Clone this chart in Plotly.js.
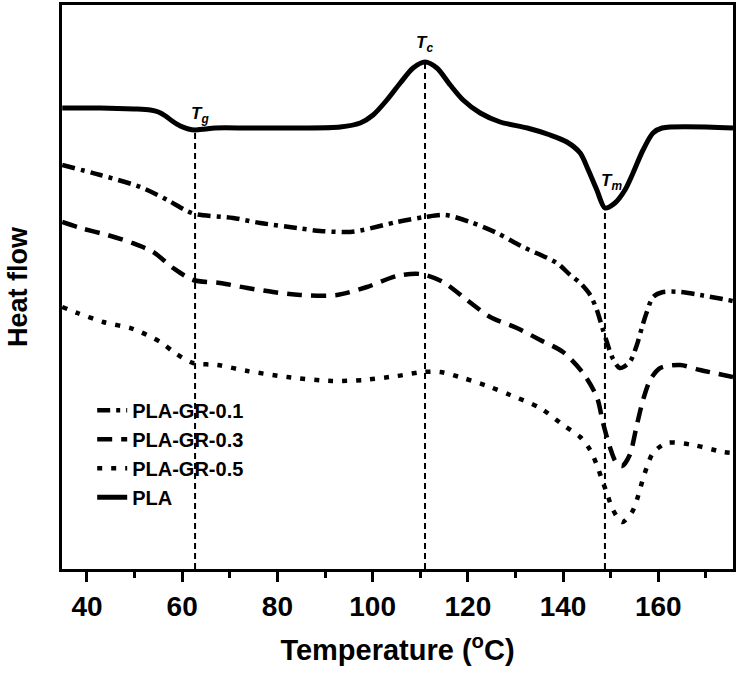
<!DOCTYPE html>
<html>
<head>
<meta charset="utf-8">
<script src="https://cdn.plot.ly/plotly-3.0.1.min.js"></script>
<style>html,body{margin:0;padding:0;background:#fff;}#chart{width:740px;height:678px;}</style>
</head>
<body>
<div id="chart"></div>
<script>
// Temperature (°C) and heat flow (a.u.)
const plaT = [34.8, 42.8, 49.9, 53.3, 55.0, 56.5, 57.9, 59.6, 61.3, 62.7, 64.8, 66.9, 74.3, 84.8, 93.2, 97.4, 100.1, 103.0, 105.8, 108.5, 111.0, 113.5, 116.3, 119.0, 122.6, 126.8, 132.5, 137.3, 140.8, 143.6, 145.3, 147.1, 148.8, 150.9, 153.0, 154.7, 156.8, 158.9, 160.8, 175.7];
const plaHF = [4.61, 4.61, 4.60, 4.59, 4.57, 4.53, 4.48, 4.43, 4.40, 4.39, 4.40, 4.41, 4.41, 4.41, 4.42, 4.46, 4.54, 4.69, 4.86, 5.01, 5.07, 5.01, 4.84, 4.69, 4.56, 4.47, 4.41, 4.34, 4.27, 4.16, 3.99, 3.79, 3.61, 3.66, 3.79, 3.96, 4.19, 4.36, 4.41, 4.41];

const gr01T = [34.8, 42.8, 51.2, 56.9, 60.6, 62.7, 70.7, 76.4, 84.2, 89.0, 95.3, 98.0, 105.1, 111.0, 115.2, 120.5, 126.1, 131.6, 138.7, 141.5, 143.6, 145.7, 147.1, 148.2, 149.2, 150.3, 151.9, 154.0, 155.5, 156.6, 157.6, 158.9, 161.0, 164.6, 168.8, 175.7];
const gr01HF = [4.04, 3.94, 3.82, 3.69, 3.59, 3.55, 3.51, 3.46, 3.41, 3.38, 3.37, 3.39, 3.47, 3.52, 3.54, 3.47, 3.36, 3.22, 3.06, 2.94, 2.86, 2.74, 2.59, 2.42, 2.27, 2.12, 2.01, 2.07, 2.24, 2.42, 2.57, 2.72, 2.77, 2.77, 2.74, 2.68];

const gr03T = [34.8, 38.6, 44.3, 49.5, 53.9, 58.1, 62.3, 67.9, 73.7, 79.1, 84.8, 92.5, 98.8, 105.1, 110.0, 114.8, 119.8, 124.7, 130.3, 135.2, 140.0, 144.2, 147.1, 148.4, 149.9, 151.1, 152.4, 154.0, 155.5, 156.8, 158.3, 160.4, 164.6, 168.8, 175.7];
const gr03HF = [3.47, 3.41, 3.34, 3.26, 3.17, 3.01, 2.89, 2.86, 2.81, 2.77, 2.74, 2.74, 2.82, 2.93, 2.95, 2.87, 2.69, 2.52, 2.41, 2.29, 2.17, 1.96, 1.72, 1.46, 1.21, 1.07, 1.03, 1.14, 1.44, 1.69, 1.89, 2.01, 2.04, 1.99, 1.92];

const gr05T = [34.8, 38.0, 43.4, 49.7, 55.4, 58.5, 62.3, 67.4, 73.7, 82.1, 91.5, 98.0, 105.1, 110.6, 114.2, 119.0, 124.7, 128.9, 135.2, 140.0, 143.6, 145.7, 147.1, 148.2, 149.2, 150.5, 152.4, 154.5, 155.7, 156.6, 157.6, 158.9, 161.8, 167.3, 173.6, 175.7];
const gr05HF = [2.62, 2.56, 2.47, 2.40, 2.27, 2.16, 2.06, 2.04, 1.98, 1.92, 1.88, 1.89, 1.93, 1.97, 1.97, 1.91, 1.82, 1.74, 1.61, 1.44, 1.32, 1.19, 1.04, 0.89, 0.76, 0.59, 0.47, 0.57, 0.72, 0.87, 1.02, 1.16, 1.26, 1.24, 1.17, 1.16];

// Transition temperatures (Tg, Tc, Tm) and the PLA heat flow at each
const transT = [62.7, 111.0, 148.8];
const transHF = [4.39, 5.07, 3.61];
const transLabels = ['T<sub>g</sub>', 'T<sub>c</sub>', 'T<sub>m</sub>'];

const seriesNames = ['PLA-GR-0.1', 'PLA-GR-0.3', 'PLA-GR-0.5', 'PLA'];
const xTicks = [40, 60, 80, 100, 120, 140, 160];

const FONT = 'Liberation Sans, Arial, Helvetica, sans-serif';

const traces = [];
// vertical guide lines at transitions
transT.forEach((t, i) => {
  traces.push({
    x: [t, t], y: [0, transHF[i]], mode: 'lines', showlegend: false, hoverinfo: 'skip',
    line: {color: '#000', width: 2, dash: '6px,4px'}
  });
});
traces.push({x: gr01T, y: gr01HF, name: seriesNames[0], mode: 'lines',
  line: {color: '#000', width: 4.5, dash: '13px,6px,4px,6px', shape: 'spline', smoothing: 0.8}});
traces.push({x: gr03T, y: gr03HF, name: seriesNames[1], mode: 'lines',
  line: {color: '#000', width: 4.5, dash: '15px,9px', shape: 'spline', smoothing: 0.8}});
traces.push({x: gr05T, y: gr05HF, name: seriesNames[2], mode: 'lines',
  line: {color: '#000', width: 4.5, dash: '5px,9px', shape: 'spline', smoothing: 0.8}});
traces.push({x: plaT, y: plaHF, name: seriesNames[3], mode: 'lines',
  line: {color: '#000', width: 5, shape: 'spline', smoothing: 0.8}});

const shifts = [[5, 15], [0, 18], [7, 26]];
const annotations = transT.map((t, i) => ({
  x: t, y: transHF[i], xref: 'x', yref: 'y', text: transLabels[i], showarrow: false,
  xshift: shifts[i][0], yshift: shifts[i][1],
  font: {family: FONT, size: 17, color: '#000', style: 'italic', weight: 'bold'}
}));

const layout = {
  width: 740, height: 678,
  margin: {l: 62, r: 7, t: 5, b: 109},
  paper_bgcolor: '#fff', plot_bgcolor: '#fff',
  showlegend: true,
  legend: {x: 0.045, y: 0.316, xanchor: 'left', yanchor: 'top', bgcolor: 'rgba(0,0,0,0)',
    font: {family: FONT, size: 20, color: '#000', weight: 'bold'}, tracegroupgap: 0},
  xaxis: {
    range: [34.75, 175.7], tickvals: xTicks, ticktext: xTicks.map(String),
    ticks: 'outside', ticklen: 10, tickwidth: 3, tickcolor: '#000',
    minor: {dtick: 10, tick0: 30, ticks: 'outside', ticklen: 6, tickwidth: 3, tickcolor: '#000'},
    showline: true, linewidth: 3, linecolor: '#000', mirror: true,
    showgrid: false, zeroline: false,
    tickfont: {family: FONT, size: 28, color: '#000', weight: 'bold'},
    title: {text: 'Temperature (<sup>o</sup>C)', standoff: 20,
      font: {family: FONT, size: 29, color: '#000', weight: 'bold'}}
  },
  yaxis: {
    range: [0, 5.64], showticklabels: false, ticks: '',
    showline: true, linewidth: 3, linecolor: '#000', mirror: true,
    showgrid: false, zeroline: false,
    title: {text: 'Heat flow', standoff: 24,
      font: {family: FONT, size: 27, color: '#000', weight: 'bold'}}
  },
  annotations: annotations
};

Plotly.newPlot('chart', traces, layout, {displayModeBar: false, staticPlot: true});
</script>
</body>
</html>
